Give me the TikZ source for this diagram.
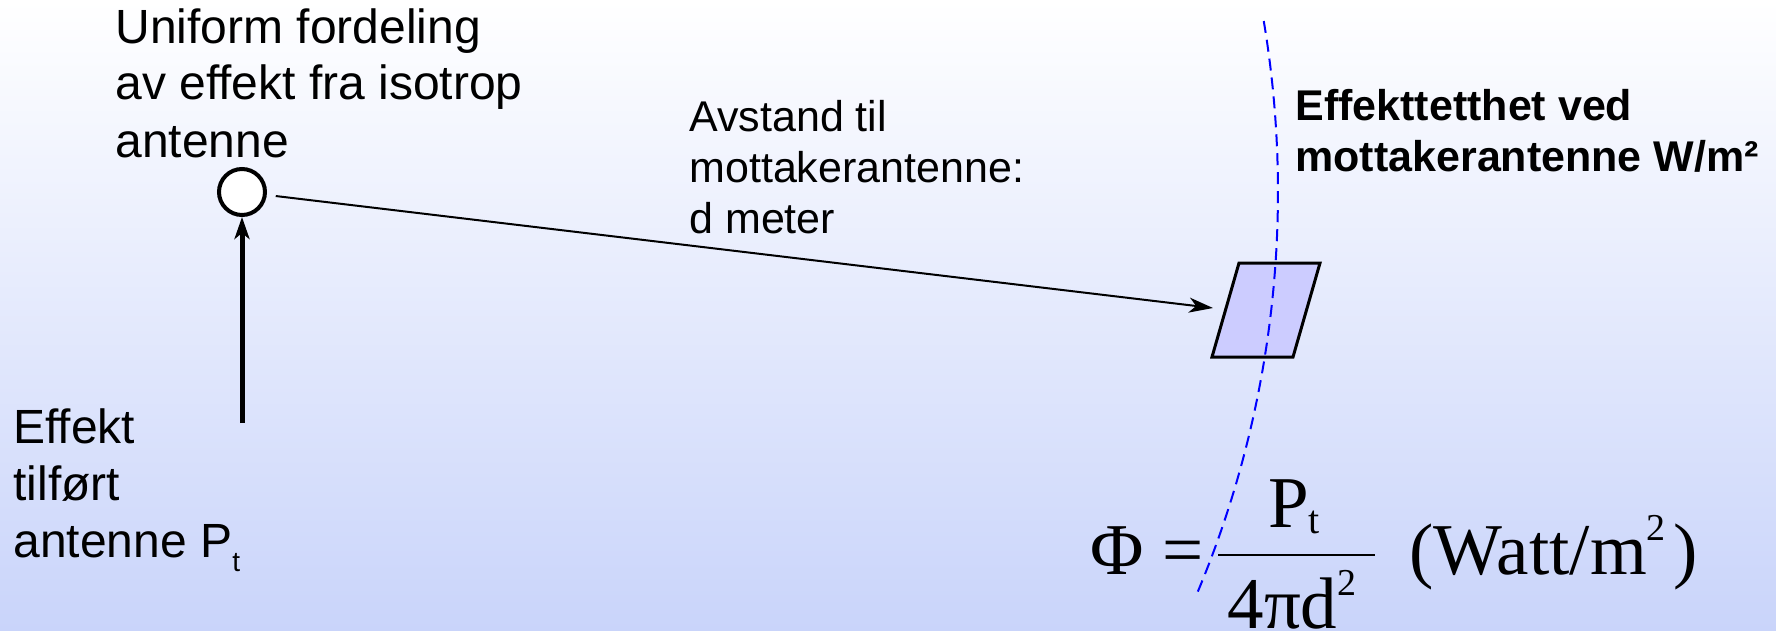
\documentclass[tikz,border=0pt]{standalone}
\usepackage{fontspec}
\setmainfont{Liberation Sans}
\newfontfamily\formfont{Liberation Serif}
\usetikzlibrary{arrows.meta,calc}
\definecolor{bgtop}{RGB}{255,255,255}
\definecolor{bgmid}{RGB}{238,241,253}
\definecolor{bgblue}{RGB}{201,212,250}
\definecolor{patchfill}{RGB}{204,204,255}
\begin{document}
\begin{tikzpicture}[x=0.5pt,y=-0.5pt,>=Stealth,biglabel/.style={font=\fontsize{24}{28.5}\selectfont,align=left,anchor=base west,inner sep=0pt},midlabel/.style={font=\fontsize{21.5}{25.5}\selectfont,align=left,anchor=base west,inner sep=0pt},boldlabel/.style={font=\fontsize{21.5}{25.5}\selectfont\bfseries,align=left,anchor=base west,inner sep=0pt},formula/.style={font=\formfont\fontsize{36.5}{40}\selectfont,inner sep=0pt,anchor=base west},feedarrow/.style={-{Stealth[length=11pt,width=7.5pt,inset=3pt]},line width=2.5pt},ray/.style={-{Stealth[length=12pt,width=7.5pt,inset=3.5pt]},line width=1pt},front/.style={blue,line width=1pt,dash pattern=on 6pt off 3.5pt},antenna/.style={circle,draw,fill=white,line width=2pt,minimum size=23pt,inner sep=0pt},patchbox/.style={draw,fill=patchfill,line width=1.5pt,line join=miter}]
\useasboundingbox (0,0) rectangle (1776,631);
\shade[top color=bgtop,middle color=bgmid,bottom color=bgblue] (0,0) rectangle (1776,631);
% receiving area and wave front
\draw[patchbox] (1212,357) -- (1293,357) -- (1320,263) -- (1239,263) -- cycle; \coordinate (hit) at (1213,308);
\node[antenna] (ant) at (242,192) {}; \coordinate (feed) at (242,423);
\draw[front] (ant) ++(-9.5:1036) arc[start angle=-9.5,end angle=23,radius=1036];
\draw[feedarrow] (feed) -- (ant);
\draw[ray,shorten <=4.5pt] (ant) -- (hit);
% labels (base = last line)
\node[biglabel] (spread) at (115,157) {Uniform fordeling\\av effekt fra isotrop\\antenne};
\node[biglabel] (feedtext) at (13,557) {Effekt\\tilført\\antenne P\raisebox{-7pt}{\fontsize{14}{14}\selectfont t}};
\node[midlabel] (dist) at (689,233) {Avstand til\\mottakerantenne:\\d meter};
\node[boldlabel] (density) at (1295,171) {Effekttetthet ved\\mottakerantenne W/m²};
% flux density formula
\node[formula] (phi) at (1090,574) {Φ =};
\node[formula,anchor=base] (num) at (1294,527) {P\raisebox{-3pt}{\fontsize{20}{20}\selectfont t}};
\node[formula,anchor=base] (den) at (1292,628) {4πd\raisebox{16.5pt}{\fontsize{19}{19}\selectfont 2}};
\draw[line width=1.3pt] (1218,555) -- (1375,555);
\node[formula] (unit) at (1409,574) {(Watt/m\raisebox{17pt}{\fontsize{19}{19}\selectfont 2}\hspace{4pt})};
\end{tikzpicture}
\end{document}
